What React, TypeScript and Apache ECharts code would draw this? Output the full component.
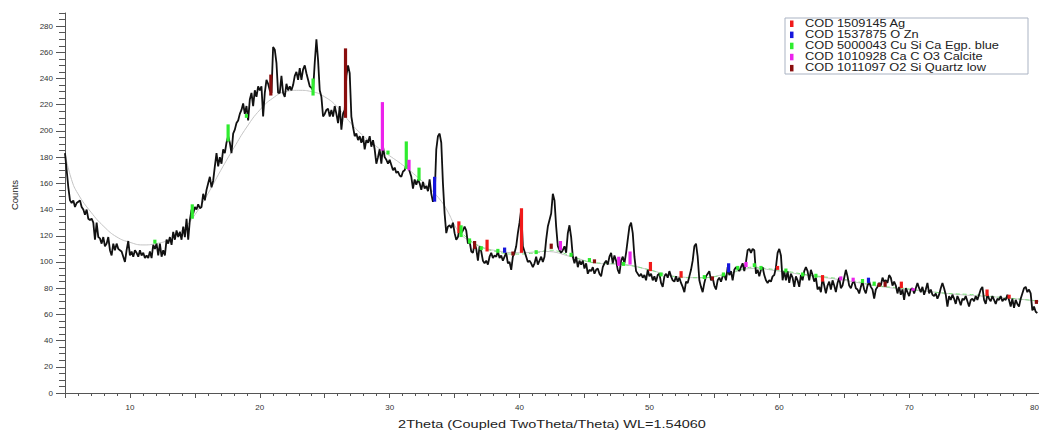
import React, { useEffect, useRef } from 'react';
import * as echarts from 'echarts';

// ---- data ----
const START_2THETA = 5;
const STEP_2THETA = 5 / 39; // sampling step of the readings (deg)

// counts, 5.00 .. 29.87 deg
const countsA = [
  183, 170, 157, 147, 145, 147, 142, 145, 146, 147, 142, 140, 136, 140, 133, 132, 133, 130, 117, 130,
  119, 118, 114, 119, 112, 114, 119, 109, 105, 114, 109, 114, 110, 109, 108, 104, 100, 109, 116, 105,
  108, 104, 109, 107, 104, 109, 105, 107, 103, 105, 103, 108, 103, 113, 110, 114, 105, 114, 104, 109,
  105, 117, 114, 119, 113, 123, 117, 124, 119, 123, 117, 127, 119, 133, 117, 132, 140, 137, 142, 140,
  144, 141, 142, 152, 147, 155, 160, 165, 157, 162, 173, 183, 173, 180, 175, 186, 183, 191, 196, 191,
  183, 198, 201, 206, 208, 213, 216, 221, 213, 219, 208, 224, 229, 219, 231, 226, 234, 231, 234, 211,
  229, 239, 236, 231, 229, 264, 262, 252, 229, 229, 242, 229, 226, 236, 231, 234, 231, 235, 242, 245,
  239, 248, 239, 247, 250, 244, 239, 234, 233, 231, 252, 270, 254, 231, 226, 211, 213, 216, 217, 211,
  216, 211, 219, 213, 206, 219, 201, 213, 216, 242, 250, 244, 211, 203, 196, 198, 193, 196, 191, 196,
  186, 193, 191, 196, 188, 193, 186, 175, 180, 186, 175, 188, 180, 178, 175,
];
// counts, 30.00 .. 54.49 deg
const countsB = [
  178, 174, 170, 172, 168, 169, 166, 165, 169, 170, 174, 173, 169, 165, 156, 163, 159, 163, 160, 155,
  161, 156, 158, 154, 163, 152, 146, 150, 186, 196, 198, 191, 160, 137, 122, 127, 128, 126, 130, 122,
  117, 119, 126, 122, 124, 127, 124, 114, 116, 108, 107, 114, 110, 101, 112, 108, 101, 99, 101, 98,
  104, 107, 103, 105, 104, 108, 103, 105, 101, 104, 107, 99, 100, 94, 104, 107, 112, 122, 130, 140,
  112, 108, 104, 100, 101, 99, 96, 99, 104, 98, 101, 104, 100, 104, 117, 127, 132, 137, 152, 147,
  127, 112, 109, 107, 109, 112, 107, 122, 128, 119, 104, 99, 104, 96, 101, 98, 101, 95, 99, 91,
  94, 93, 96, 91, 94, 95, 91, 89, 96, 99, 101, 98, 104, 107, 99, 105, 101, 94, 91, 101,
  104, 99, 107, 117, 127, 130, 122, 104, 93, 91, 89, 91, 88, 90, 86, 94, 89, 91, 86, 89,
  85, 90, 91, 84, 81, 89, 91, 88, 93, 89, 86, 85, 89, 85, 88, 84, 81, 77, 85, 84,
  89, 94, 101, 112, 114, 104, 86, 81, 77, 84, 89, 91,
];
// counts, 54.62 .. 79.87 deg
const countsC = [
  93, 86, 88, 82, 79, 86, 88, 85, 89, 90, 86, 96, 90, 93, 86, 94, 96, 95, 93, 96,
  99, 93, 100, 109, 110, 107, 110, 109, 91, 94, 89, 94, 96, 90, 86, 84, 86, 85, 89, 90,
  96, 107, 110, 105, 86, 93, 86, 93, 84, 91, 88, 81, 89, 86, 81, 90, 86, 93, 96, 93,
  86, 94, 90, 85, 88, 79, 81, 77, 88, 82, 76, 82, 85, 79, 86, 82, 77, 84, 88, 80,
  82, 88, 94, 89, 82, 80, 84, 85, 80, 79, 76, 81, 85, 79, 76, 82, 85, 81, 79, 72,
  79, 81, 84, 82, 88, 85, 86, 84, 90, 88, 82, 85, 82, 76, 81, 75, 79, 71, 80, 77,
  74, 79, 80, 76, 80, 84, 80, 77, 81, 75, 79, 84, 76, 79, 75, 74, 76, 72, 75, 80,
  84, 80, 75, 66, 74, 71, 75, 72, 68, 74, 71, 67, 72, 71, 74, 70, 66, 71, 72, 70,
  74, 71, 75, 79, 81, 71, 68, 75, 72, 70, 74, 71, 68, 72, 71, 74, 70, 72, 71, 75,
  71, 66, 72, 65, 71, 68, 66, 72, 76, 80, 81, 77, 79, 76, 63, 66, 62, 61,
];

// fitted background (thin grey curve): [2theta, counts]
const backgroundCurve = [
  [5, 183], [5.5, 163], [6, 152], [7, 138], [8, 127], [9, 119], [10, 115], [11, 113], [12, 114],
  [13, 117], [14, 124], [15, 136], [16, 152], [17, 170], [18, 187], [19, 203], [20, 216], [21, 225],
  [22, 230], [23, 231], [24, 230], [25, 226], [26, 218], [27, 206], [28, 196], [29, 188], [30, 181],
  [31, 174], [32, 166], [33, 157], [34, 146], [34.5, 138], [35, 128], [35.5, 121], [36, 117], [37, 112],
  [38, 109], [40, 107], [42, 108], [44, 104], [46, 99], [48, 98], [50, 94], [52, 89], [54, 88],
  [56, 91], [58, 95], [60, 93], [62, 90], [65, 86], [68, 81], [71, 78], [74, 75], [77, 73], [80, 70],
];

// light green line of the Egyptian-blue pattern along the background
const greenBaseline = [
  [35.3, 124], [35.9, 119], [36.9, 112], [38.2, 108], [39.5, 106], [41.3, 107], [42.3, 109], [43, 108],
  [44.1, 104], [45.4, 100], [46.4, 99], [48, 98], [50, 94], [51.3, 90], [53, 88], [54.1, 88], [55.6, 90],
  [57, 94], [57.95, 96], [59, 95], [60.5, 93], [62.3, 90], [64, 88], [65.5, 86], [67.4, 82], [69.5, 80],
  [71, 78], [73, 76], [75, 75], [77, 73], [79.2, 71], [80, 70],
];

const phaseNames = [
  'COD 1509145 Ag',
  'COD 1537875 O Zn',
  'COD 5000043 Cu Si Ca Egp. blue',
  'COD 1010928 Ca C O3 Calcite',
  'COD 1011097 O2 Si Quartz low',
];
const phaseColors = ['#f01a1a', '#1616dc', '#2fec2f', '#ec22ec', '#8a0e0e'];

// reference sticks: [2theta, bottom, top, phase index]
const sticks = [
  [11.92, 114, 117, 2], [14.8, 133, 144, 2], [17.56, 192, 205, 2], [18.97, 210, 213, 2],
  [20.85, 227, 243, 4], [24.1, 227, 240, 2], [26.6, 210, 263, 4], [29.44, 185, 222, 3],
  [29.87, 182, 185, 2], [31.28, 171, 192, 2], [31.49, 170, 178, 3], [32.26, 162, 172, 2],
  [33.46, 146, 165, 1], [35.33, 122, 131, 0], [35.5, 119, 128, 2], [36.15, 114, 118, 2],
  [36.54, 110, 116, 4], [37.05, 109, 112, 2], [37.5, 108, 117, 0], [38.33, 107, 110, 2],
  [38.85, 107, 111, 1], [39.49, 105, 108, 4], [40.15, 107, 141, 0], [41.28, 106, 109, 2],
  [42.44, 110, 114, 4], [43.15, 109, 116, 3], [43.97, 104, 107, 2], [45.38, 100, 103, 2],
  [45.77, 99, 102, 4], [47.64, 97, 104, 3], [48.0, 97, 100, 2], [48.51, 98, 108, 3],
  [50.08, 93, 100, 0], [50.9, 89, 92, 2], [52.44, 88, 93, 0], [54.23, 87, 90, 2],
  [54.85, 86, 89, 4], [55.7, 89, 92, 2], [56.1, 92, 99, 1], [56.8, 94, 97, 2],
  [57.44, 96, 100, 3], [58.08, 96, 99, 2], [58.59, 94, 97, 2], [59.87, 94, 97, 0],
  [60.51, 92, 95, 2], [61.8, 89, 92, 2], [62.82, 88, 91, 2], [63.33, 85, 90, 0],
  [64.74, 86, 89, 3], [65.69, 85, 88, 3], [66.41, 84, 87, 2], [66.87, 84, 88, 1],
  [67.31, 82, 85, 2], [67.69, 81, 84, 4], [68.15, 81, 85, 4], [69.4, 80, 85, 0],
  [70.3, 78, 80, 3], [76.0, 74, 79, 0], [77.7, 72, 75, 0], [79.8, 68, 71, 4],
];

const xLabelValues = [10, 20, 30, 40, 50, 60, 70, 80];
const yLabelValues = [0, 20, 40, 60, 80, 100, 120, 140, 160, 180, 200, 220, 240, 260, 280];
const xAxisTitle = '2Theta (Coupled TwoTheta/Theta) WL=1.54060';
const yAxisTitle = 'Counts';

const FONT = '"Liberation Sans", Arial, sans-serif';

export default function App() {
  const ref = useRef<HTMLDivElement>(null);

  useEffect(() => {
    if (!ref.current) return;
    const chart = echarts.init(ref.current, null, { renderer: 'svg' });

    const counts = [...countsA, ...countsB, ...countsC];
    const pattern = counts.map((c, i) => [START_2THETA + i * STEP_2THETA, c]);

    const legendItems: any[] = [
      {
        type: 'rect',
        shape: { x: 785, y: 18, width: 243, height: 56 },
        style: { fill: '#ffffff', stroke: '#aab3c3', lineWidth: 1 },
      },
    ];
    phaseNames.forEach((name, i) => {
      const cy = 23.5 + i * 11.1;
      legendItems.push({
        type: 'rect',
        shape: { x: 790, y: cy - 3, width: 3.5, height: 6.5 },
        style: { fill: phaseColors[i] },
      });
      legendItems.push({
        type: 'text',
        x: 805,
        y: cy,
        scaleX: 1.28,
        style: {
          text: name,
          fontSize: 10,
          fontFamily: FONT,
          fill: '#222',
          align: 'left',
          verticalAlign: 'middle',
        },
      });
    });

    const tickLine = { lineStyle: { color: '#555', width: 1 } };

    chart.setOption({
      animation: false,
      backgroundColor: '#ffffff',
      grid: { left: 65, right: 0, top: 13, bottom: 46, containLabel: false, outerBoundsMode: 'none' },
      xAxis: [
        {
          type: 'value',
          min: 5,
          max: 80,
          interval: 1,
          position: 'bottom',
          axisLine: { show: true, lineStyle: { color: '#555', width: 1 } },
          axisTick: { show: true, length: 3, ...tickLine },
          axisLabel: {
            show: true,
            fontSize: 8,
            fontFamily: FONT,
            color: '#333',
            margin: 10,
            alignMaxLabel: 'right',
            formatter: (v: number) => {
              const r = Math.round(v);
              return xLabelValues.includes(r) ? String(r) : '';
            },
          },
          splitLine: { show: false },
        },
        {
          type: 'value',
          min: 5,
          max: 80,
          interval: 5,
          position: 'bottom',
          axisLine: { show: false },
          axisTick: { show: true, length: 5, ...tickLine },
          axisLabel: { show: false },
          splitLine: { show: false },
        },
      ],
      yAxis: [
        {
          type: 'value',
          min: 0,
          max: 290,
          interval: 5,
          position: 'left',
          axisLine: { show: true, lineStyle: { color: '#555', width: 1 } },
          axisTick: { show: true, length: 6, ...tickLine },
          axisLabel: {
            show: true,
            fontSize: 8,
            fontFamily: FONT,
            color: '#333',
            margin: 12,
            formatter: (v: number) => {
              const r = Math.round(v);
              return yLabelValues.includes(r) ? String(r) : '';
            },
          },
          splitLine: { show: false },
        },
        {
          type: 'value',
          min: 0,
          max: 290,
          position: 'left',
          axisLine: { show: false },
          axisTick: { show: true, length: 9, customValues: yLabelValues, ...tickLine },
          axisLabel: { show: false },
          splitLine: { show: false },
        },
      ],
      graphic: [
        ...legendItems,
        {
          type: 'text',
          x: 14,
          y: 195,
          rotation: Math.PI / 2,
          style: {
            text: yAxisTitle,
            fontSize: 9.5,
            fontFamily: FONT,
            fill: '#222',
            align: 'center',
            verticalAlign: 'middle',
          },
        },
        {
          type: 'text',
          x: 552,
          y: 424,
          scaleX: 1.26,
          style: {
            text: xAxisTitle,
            fontSize: 11.5,
            fontFamily: FONT,
            fill: '#222',
            align: 'center',
            verticalAlign: 'middle',
          },
        },
      ],
      series: [
        {
          type: 'line',
          name: 'background',
          data: backgroundCurve,
          smooth: true,
          showSymbol: false,
          silent: true,
          lineStyle: { color: '#c4c4c4', width: 1 },
          z: 1,
        },
        {
          type: 'line',
          name: 'Egp. blue baseline',
          data: greenBaseline,
          smooth: true,
          showSymbol: false,
          silent: true,
          lineStyle: { color: '#7ee27e', width: 1, type: [4, 3] },
          z: 2,
        },
        {
          type: 'line',
          name: 'pattern',
          data: pattern,
          showSymbol: false,
          silent: true,
          lineStyle: { color: '#111111', width: 1.8 },
          z: 3,
        },
        {
          type: 'custom',
          name: 'sticks',
          data: sticks,
          encode: { x: 0, y: [1, 2] },
          silent: true,
          z: 4,
          renderItem: (params: any, api: any) => {
            const x = api.value(0);
            const b = api.value(1);
            const t = api.value(2);
            const ph = api.value(3);
            const p0 = api.coord([x, b]);
            const p1 = api.coord([x, t]);
            return {
              type: 'rect',
              shape: { x: p0[0] - 1.6, y: p1[1], width: 3.2, height: p0[1] - p1[1] },
              style: { fill: phaseColors[ph] },
            };
          },
        },
      ],
    });

    return () => chart.dispose();
  }, []);

  return (
    <div
      ref={ref}
      style={{ position: 'fixed', left: 0, top: 0, width: 1039, height: 439, background: '#fff' }}
    />
  );
}
